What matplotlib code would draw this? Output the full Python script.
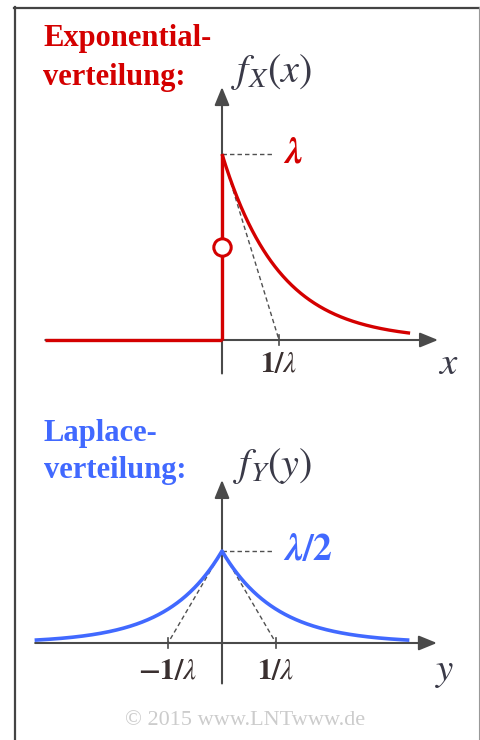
import numpy as np
import matplotlib.pyplot as plt
from matplotlib.lines import Line2D

plt.rcParams['mathtext.fontset'] = 'stix'
plt.rcParams['font.family'] = ['Liberation Serif', 'DejaVu Serif']

W, H = 480, 740

# distribution parameter and plotted ranges (in units of 1/lambda)
lam = 1.0
exp_left = -3.1        # flat zero part left of the origin
exp_right = 3.3        # end of the exponential tail
lap_range = 3.47       # Laplace curve drawn on [-lap_range, lap_range]
tick_pos = [1 / lam]
lap_ticks = [-1 / lam, 1 / lam]
exp_tick_labels = [r'$\mathbf{1/}\mathit{\lambda}$']
lap_tick_labels = [r'$\mathbf{-1/}\mathit{\lambda}$', r'$\mathbf{1/}\mathit{\lambda}$']

red = '#d40000'
blue = '#4169ff'
axis_c = '#4a4a4a'
dash_c = '#505050'
label_c = '#3a3a48'
dashes = (0, (3.2, 2.2))


def place_axes(fig, box, origin, scale):
    """Axes covering a pixel box, with data (0,0) at origin and scale px per unit."""
    left, top, right, bottom = box
    ox, oy = origin
    sx, sy = scale
    ax = fig.add_axes([left / W, 1 - bottom / H, (right - left) / W, (bottom - top) / H])
    ax.set_xlim((left - ox) / sx, (right - ox) / sx)
    ax.set_ylim((oy - bottom) / sy, (oy - top) / sy)
    ax.axis('off')
    return ax


def arrow(ax, start, tip):
    ax.annotate('', xy=tip, xytext=start,
                arrowprops=dict(arrowstyle='-|>,head_length=1.1,head_width=0.45',
                                mutation_scale=10, color=axis_c, lw=1.5,
                                shrinkA=0, shrinkB=0),
                annotation_clip=False, zorder=1)


fig = plt.figure(figsize=(W / 100, H / 100), dpi=100)

# frame lines
fig.add_artist(Line2D([14.5 / W, 14.5 / W], [0, 1 - 7 / H], color='#444444', lw=1.6))
fig.add_artist(Line2D([14 / W, 1], [1 - 7.5 / H, 1 - 7.5 / H], color='#444444', lw=1.6))
fig.add_artist(Line2D([478.5 / W, 478.5 / W], [0, 1 - 7 / H], color='#999999', lw=0.8))

# ---- exponential distribution ----
ax1 = place_axes(fig, (20, 40, 475, 400), (222, 340), (57, 186))
arrow(ax1, (exp_left, 0), (3.79, 0))
arrow(ax1, (0, -0.18), (0, 1.36))

x = np.linspace(0, exp_right, 300)
fx = lam * np.exp(-lam * x)
ax1.plot([0, 1 / lam], [lam, 0], ls=dashes, color=dash_c, lw=1.0, zorder=2)
ax1.plot([0, 0.9], [lam, lam], ls=dashes, color=dash_c, lw=1.0, zorder=2)
ax1.plot([exp_left, 0], [0, 0], color=red, lw=2.4, solid_capstyle='butt', zorder=3)
ax1.plot([0, 0], [0, lam], color=red, lw=2.4, solid_capstyle='butt', zorder=3)
ax1.plot(x, fx, color=red, lw=2.4, solid_capstyle='butt', zorder=3)
ax1.plot([0], [lam / 2], 'o', ms=12.5, mfc='white', mec=red, mew=2.2, zorder=4)
for t in tick_pos:
    ax1.plot([t, t], [-0.025, 0.025], color=axis_c, lw=1.2, zorder=2)
for t, s in zip(tick_pos, exp_tick_labels):
    ax1.text(t, -0.135, s, fontsize=21, color='#3a3030', ha='center', va='center')
ax1.text(1.25, lam, r'$\mathbfit{\lambda}$', fontsize=26, color=red,
         ha='center', va='center')
ax1.text(3.96, -0.13, r'$x$', fontsize=28, color=label_c, ha='center', va='center')
ax1.text(0.15, 1.44, r'$f_X(x)$', fontsize=29, color=label_c, ha='left', va='center')
ax1.text(-3.14, 1.62, 'Exponential-', fontsize=22, color=red, fontweight='bold',
         ha='left', va='center')
ax1.text(-3.14, 1.41, 'verteilung:', fontsize=22, color=red, fontweight='bold',
         ha='left', va='center')

# ---- Laplace distribution ----
ax2 = place_axes(fig, (20, 410, 475, 740), (222, 643), (54, 184))
arrow(ax2, (-3.46, 0), (3.98, 0))
arrow(ax2, (0, -0.22), (0, 0.886))

y = np.linspace(-lap_range, lap_range, 601)
fy = lam / 2 * np.exp(-lam * np.abs(y))
for t in lap_ticks:
    ax2.plot([0, t], [lam / 2, 0], ls=dashes, color=dash_c, lw=1.0, zorder=2)
    ax2.plot([t, t], [-0.025, 0.025], color=axis_c, lw=1.2, zorder=2)
ax2.plot([0, 0.94], [lam / 2, lam / 2], ls=dashes, color=dash_c, lw=1.0, zorder=2)
ax2.plot(y, fy, color=blue, lw=2.6, solid_capstyle='butt', zorder=3)
for t, s in zip(lap_ticks, lap_tick_labels):
    ax2.text(t, -0.16, s, fontsize=21, color='#3a3030', ha='center', va='center')
ax2.text(1.13, lam / 2, r'$\mathbfit{\lambda}\mathbf{/2}$', fontsize=27, color=blue,
         ha='left', va='center')
ax2.text(4.13, -0.155, r'$y$', fontsize=28, color=label_c, ha='center', va='center')
ax2.text(0.2, 0.96, r'$f_Y(y)$', fontsize=29, color=label_c, ha='left', va='center')
ax2.text(-3.3, 1.14, 'Laplace-', fontsize=22, color=blue, fontweight='bold',
         ha='left', va='center')
ax2.text(-3.3, 0.935, 'verteilung:', fontsize=22, color=blue, fontweight='bold',
         ha='left', va='center')
ax2.text(0.42, -0.42, '© 2015 www.LNTwww.de', fontsize=16, color='#cccccc',
         ha='center', va='center')

fig.savefig('out.png', dpi=100)
